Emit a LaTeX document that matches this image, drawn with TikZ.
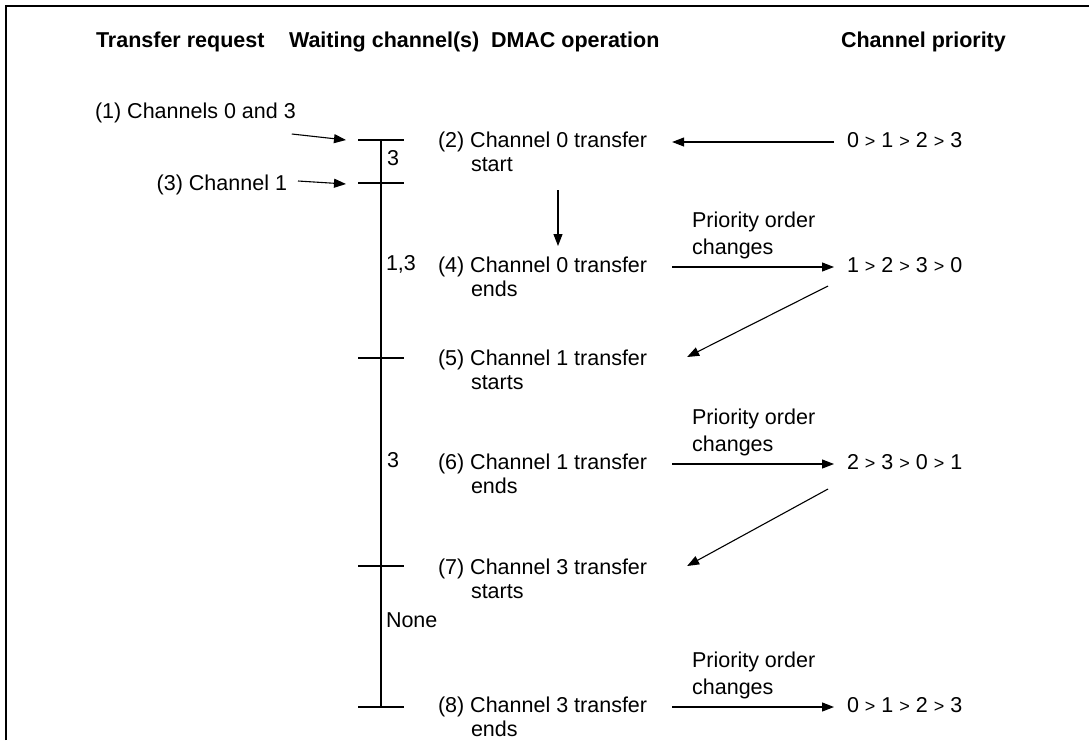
\documentclass[tikz,border=0pt]{standalone}
\usepackage{fontspec}
\setmainfont{Liberation Sans}
\usepackage{tikz}
\usetikzlibrary{arrows.meta,positioning}

\newcommand{\pgt}{{\fontsize{18}{18}\selectfont >}}

\begin{document}
\begin{tikzpicture}[x=1pt,y=-1pt,
  every node/.style={font=\fontsize{21.5}{27}\selectfont, inner sep=0pt, outer sep=0pt},
  hdr/.style={font=\fontsize{21.5}{27}\selectfont\bfseries, anchor=west},
  txt/.style={anchor=west, text height=15pt, text depth=4pt},
  lbl/.style={anchor=south west, align=left},
  arr/.style={-{Triangle[length=12pt,width=9pt]}, line width=1.1pt},
  tk/.style={line width=1.1pt}]
\useasboundingbox (0,0) rectangle (1089,740);
\draw[line width=2pt] (6,740) -- (6,6) -- (1089,6);

% column heads
\node[hdr] (hreq) at (96,42) {Transfer request};
\node[hdr] (hwait) at (289,42) {Waiting channel(s)};
\node[hdr] (hop) at (491,42) {DMAC operation};
\node[hdr] (hprio) at (841,42) {Channel priority};

% waiting line and ticks
\coordinate (w1) at (381,140);
\coordinate (w3) at (381,183);
\coordinate (w5) at (381,358);
\coordinate (w7) at (381,566);
\coordinate (w8) at (381,707);
\draw[tk] (w1) -- (w8);
\foreach \t in {w1,w3,w5,w7,w8}
  \draw[tk] ([xshift=-23pt]\t) -- ([xshift=23pt]\t);
\node[txt] (n13a) at (387,160) {3};
\node[txt] (n13b) at (386,265) {1,3};
\node[txt] (n3) at (387,462) {3};
\node[txt] (none) at (386,622) {None};

% requests
\node[txt] (req1) at (95,113) {(1) Channels 0 and 3};
\node[txt, anchor=east] (req3) at (287,185) {(3) Channel 1};
\draw[arr] ([xshift=-4pt,yshift=-21pt]req1.east) -- ([xshift=-35pt]w1);
\draw[arr] ([xshift=11pt,yshift=4pt]req3.east) -- ([xshift=-35pt,yshift=-1pt]w3);

% DMAC operation
\node[txt] (op2) at (438,142) {(2) Channel 0 transfer};
\node[txt] at ([xshift=33pt,yshift=-24pt]op2.west) {start};
\node[txt] (op4) at (438,267) {(4) Channel 0 transfer};
\node[txt] at ([xshift=33pt,yshift=-24pt]op4.west) {ends};
\node[txt] (op5) at (438,360) {(5) Channel 1 transfer};
\node[txt] at ([xshift=33pt,yshift=-24pt]op5.west) {starts};
\node[txt] (op6) at (438,464) {(6) Channel 1 transfer};
\node[txt] at ([xshift=33pt,yshift=-24pt]op6.west) {ends};
\node[txt] (op7) at (438,569) {(7) Channel 3 transfer};
\node[txt] at ([xshift=33pt,yshift=-24pt]op7.west) {starts};
\node[txt] (op8) at (438,707) {(8) Channel 3 transfer};
\node[txt] at ([xshift=33pt,yshift=-24pt]op8.west) {ends};

% channel priority
\node[txt] (pr2) at (847,142) {0 \pgt{} 1 \pgt{} 2 \pgt{} 3};
\node[txt] (pr4) at (847,267) {1 \pgt{} 2 \pgt{} 3 \pgt{} 0};
\node[txt] (pr6) at (847,464) {2 \pgt{} 3 \pgt{} 0 \pgt{} 1};
\node[txt] (pr8) at (847,707) {0 \pgt{} 1 \pgt{} 2 \pgt{} 3};

\draw[arr] ([xshift=-13pt]pr2.west) -- ([xshift=25pt]op2.east);
\draw[arr] ([xshift=120pt,yshift=-48pt]op2.west) -- ([xshift=120pt,yshift=21pt]op4.west);
\draw[arr] ([xshift=25pt]op4.east) -- node[lbl, pos=0, xshift=20pt, yshift=8pt] {Priority order\\changes} ([xshift=-13pt]pr4.west);
\draw[arr] ([xshift=-19pt,yshift=-19pt]pr4.west) -- ([xshift=40pt,yshift=3pt]op5.east);
\draw[arr] ([xshift=25pt]op6.east) -- node[lbl, pos=0, xshift=20pt, yshift=8pt] {Priority order\\changes} ([xshift=-13pt]pr6.west);
\draw[arr] ([xshift=-19pt,yshift=-25pt]pr6.west) -- ([xshift=40pt,yshift=3pt]op7.east);
\draw[arr] ([xshift=25pt]op8.east) -- node[lbl, pos=0, xshift=20pt, yshift=8pt] {Priority order\\changes} ([xshift=-13pt]pr8.west);
\end{tikzpicture}
\end{document}
